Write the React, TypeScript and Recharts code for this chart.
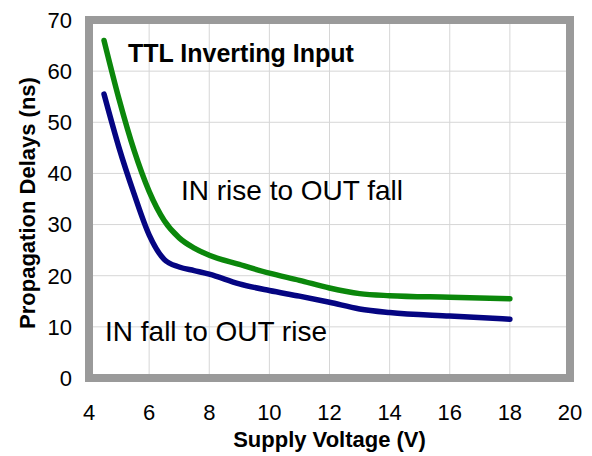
import React from "react";
import {
  LineChart,
  Line,
  XAxis,
  YAxis,
  CartesianGrid,
  ReferenceArea,
} from "recharts";

const voltages = [4.5, 5, 5.5, 6, 6.5, 7, 7.5, 8, 9, 10, 11, 12, 13, 14, 16, 18];
const riseToFall = [66, 54.5, 44.5, 36.5, 30.8, 27.4, 25.4, 24, 22.2, 20.5, 19.1, 17.6, 16.5, 16.1, 15.8, 15.5];
const fallToRise = [55.5, 45, 36, 28, 23.2, 21.7, 21, 20.3, 18.4, 17.1, 16, 14.8, 13.5, 12.8, 12.1, 11.5];
const xTicks = [4, 6, 8, 10, 12, 14, 16, 18, 20];
const yTicks = [0, 10, 20, 30, 40, 50, 60, 70];

const data = voltages.map((v, i) => ({ v, rise: riseToFall[i], fall: fallToRise[i] }));

const FONT = "'Liberation Sans', Arial, sans-serif";

const Texts = () => (
  <g fontFamily={FONT} fill="#000">
    <text x={329.5} y={447} textAnchor="middle" fontSize={22} fontWeight="bold">
      Supply Voltage (V)
    </text>
    <text
      x={35}
      y={203}
      textAnchor="middle"
      fontSize={22}
      fontWeight="bold"
      transform="rotate(-90, 35, 203)"
    >
      Propagation Delays (ns)
    </text>
    <text x={128} y={62} fontSize={25} fontWeight="bold">
      TTL Inverting Input
    </text>
    <text x={181} y={200} fontSize={28}>
      IN rise to OUT fall
    </text>
    <text x={105} y={341} fontSize={28}>
      IN fall to OUT rise
    </text>
  </g>
);

export default function App() {
  return (
    <div style={{ position: "absolute", left: 0, top: 0, background: "#fff" }}>
      <LineChart
        width={592}
        height={456}
        data={data}
        margin={{ top: 20, right: 22, bottom: 48, left: 29 }}
      >
        <CartesianGrid stroke="#d6d6d6" strokeWidth={1} />
        <XAxis
          dataKey="v"
          type="number"
          domain={[4, 20]}
          ticks={xTicks}
          height={30}
          axisLine={false}
          tickLine={false}
          tickSize={6}
          tickMargin={20}
          tick={{ fontSize: 22, fill: "#000", fontFamily: FONT }}
          label={{ content: () => <Texts /> }}
          interval={0}
        />
        <YAxis
          type="number"
          domain={[0, 70]}
          ticks={yTicks}
          width={60}
          axisLine={false}
          tickLine={false}
          tickSize={6}
          tickMargin={11}
          tick={{ fontSize: 22, fill: "#000", fontFamily: FONT }}
          interval={0}
        />
        <ReferenceArea
          x1={4}
          x2={20}
          y1={0}
          y2={70}
          fill="none"
          fillOpacity={0}
          stroke="#9a9a9a"
          strokeWidth={8}
          ifOverflow="visible"
        />
        <Line
          type="monotone"
          dataKey="rise"
          stroke="#0b870b"
          strokeWidth={5.5}
          dot={false}
          strokeLinecap="round"
          isAnimationActive={false}
        />
        <Line
          type="monotone"
          dataKey="fall"
          stroke="#050582"
          strokeWidth={5.5}
          dot={false}
          strokeLinecap="round"
          isAnimationActive={false}
        />
      </LineChart>
    </div>
  );
}
